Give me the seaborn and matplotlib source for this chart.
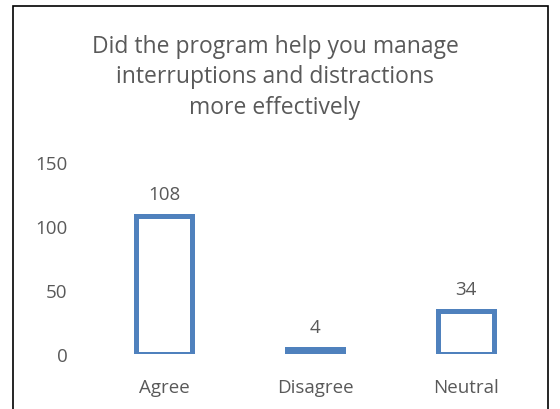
import matplotlib
matplotlib.use("Agg")
import matplotlib.pyplot as plt
import pandas as pd
import seaborn as sns
from matplotlib.patches import Rectangle

categories = ["Agree", "Disagree", "Neutral"]
counts = [108, 4, 34]
y_ticks = [0, 50, 100, 150]
title = "Did the program help you manage\ninterruptions and distractions\nmore effectively"

BLUE = "#4F81BD"
GREY = "#595959"

sns.set_theme(style="white")
plt.rcParams["font.family"] = ["Open Sans", "DejaVu Sans"]

df = pd.DataFrame({"category": categories, "count": counts})

fig = plt.figure(figsize=(5.6, 4.1), dpi=100)
fig.patches.append(Rectangle((13 / 560, -0.1), (548 - 13) / 560, 1.1 - 7 / 410,
                             transform=fig.transFigure, fill=False,
                             edgecolor="black", linewidth=1.2))
ax = fig.add_axes([0.158, 0.134, 0.809, 0.468])

sns.barplot(data=df, x="category", y="count", ax=ax, width=0.37,
            color="white", edgecolor=BLUE, linewidth=3.6, saturation=1)

for i, v in enumerate(counts):
    ax.text(i, v + 10, str(v), ha="center", va="bottom", fontsize=13.5, color=GREY)

ax.set_ylim(0, 150)
ax.set_xlim(-0.5, 2.5)
ax.set_yticks(y_ticks)
ax.set_xlabel("")
ax.set_ylabel("")
ax.tick_params(axis="both", length=0, labelsize=13.5, labelcolor=GREY)
ax.tick_params(axis="y", pad=15)
ax.tick_params(axis="x", pad=17)
for spine in ax.spines.values():
    spine.set_visible(False)

fig.text(0.491, 0.812, title, ha="center", va="center", fontsize=16.5,
         color=GREY, linespacing=1.36)

fig.savefig("out.png", dpi=100)
